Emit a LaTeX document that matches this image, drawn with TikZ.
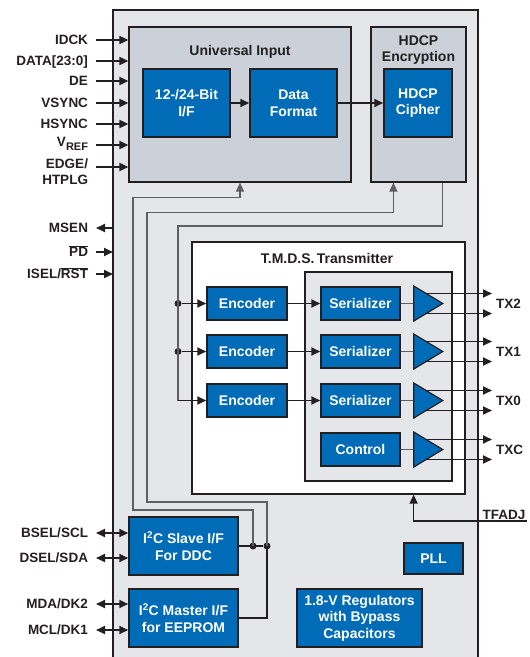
\documentclass[tikz,border=0pt]{standalone}
\usepackage{fontspec}
\setmainfont{Liberation Sans}
\usetikzlibrary{arrows.meta,calc}

\definecolor{chipgray}{RGB}{228,230,234}
\definecolor{blockgray}{RGB}{204,209,217}
\definecolor{tiblue}{RGB}{0,108,183}
\definecolor{ink}{RGB}{35,31,32}
\definecolor{wiregray}{RGB}{95,95,98}

\newcommand{\ovl}[1]{$\overline{\mbox{#1}}$}

\begin{document}
\begin{tikzpicture}[x=1pt,y=-1pt,
    font=\fontsize{13.5}{16.5}\selectfont\bfseries,
    blk/.style={draw=ink,line width=1.5pt,fill=tiblue,text=white,align=center,inner sep=0pt,font=\fontsize{14}{16.5}\selectfont\bfseries},
    grp/.style={draw=ink,line width=1.2pt,fill=blockgray,inner sep=0pt},
    title/.style={text=ink,align=center,font=\fontsize{14}{16.5}\selectfont\bfseries},
    pinlbl/.style={anchor=east,inner sep=0pt,outer sep=8pt,text height=9.7pt,text depth=0pt,text=ink},
    outlbl/.style={anchor=west,inner sep=0pt,text height=9.7pt,text depth=0pt,text=ink},
    sig/.style={draw=ink,line width=1.8pt,-{Triangle[length=9pt,width=8pt]}},
    bisig/.style={draw=ink,line width=1.8pt,{Triangle[length=9pt,width=8pt]}-{Triangle[length=9pt,width=8pt]}},
    wire/.style={draw=wiregray,line width=1.2pt},
    buf/.style={draw=ink,line width=1.2pt,fill=tiblue},
    dot/.style={circle,fill=ink,inner sep=0pt,minimum size=7pt}]

      \useasboundingbox (0,0) rectangle (530,657);

      % the chip, open at the bottom
      \coordinate (chipnw) at (113,10);
      \fill[chipgray] (113,10) rectangle (478,657);
      \draw[ink,line width=1.5pt] (113,657) -- (chipnw) -- (478,10) -- (478,657);

      % Universal Input
      \node[grp,minimum width=222pt,minimum height=155pt] (ui) at (240,104.5) {};
      \node[title] (uititle) at (240,52) {Universal Input};
      \node[blk,minimum width=87pt,minimum height=68pt] (bitif) at (186.5,103) {12-/24-Bit\\I/F};
      \node[blk,minimum width=87pt,minimum height=68pt] (fmt) at (293.5,103) {Data\\Format};

      % HDCP
      \node[grp,minimum width=95pt,minimum height=155pt] (hdcp) at (418.5,104.5) {};
      \node[title] (hdcptitle) at (418.5,50) {HDCP\\Encryption};
      \node[blk,minimum width=68pt,minimum height=68pt] (cipher) at (418,103) {HDCP\\Cipher};

      \draw[sig] (bitif) -- (fmt);
      \draw[sig] (fmt) -- (cipher);

      % input pins
      \node[pinlbl] (idck) at (96,40) {IDCK};
      \node[pinlbl] (data) at (96,61) {DATA[23:0]};
      \node[pinlbl] (de) at (96,81) {DE};
      \node[pinlbl] (vsync) at (96,103) {VSYNC};
      \node[pinlbl] (hsync) at (96,124) {HSYNC};
      \node[pinlbl] (vref) at (96,145) {\raisebox{3pt}{V}\raisebox{-1pt}{\fontsize{11}{11}\selectfont REF}};
      \node[pinlbl,align=right,text height=26.2pt] (edge) at (96,171.5) {EDGE/\\HTPLG};
      \coordinate (edgepin) at ($(edge.east)+(0,-4.5)$);

      \draw[sig] (idck) -- (idck -| ui.west);
      \draw[sig] (data) -- (data -| ui.west);
      \draw[sig] (de) -- (de -| ui.west);
      \draw[sig] (vsync) -- (vsync -| ui.west);
      \draw[sig] (hsync) -- (hsync -| ui.west);
      \draw[sig] (vref) -- (vref -| ui.west);
      \draw[sig] (edgepin) -- (edgepin -| ui.west);

      % control pins
      \node[pinlbl] (msen) at (96,228) {MSEN};
      \node[pinlbl] (pd) at (96,252) {\ovl{PD}};
      \node[pinlbl] (isel) at (96,274) {ISEL/\ovl{RST}};
      \draw[sig] (msen -| chipnw) -- (msen);
      \draw[sig] (pd) -- (pd -| chipnw);
      \draw[sig] (isel) -- (isel -| chipnw);

      % T.M.D.S. transmitter
      \node[draw=ink,line width=1.2pt,fill=white,inner sep=0pt,minimum width=273pt,minimum height=252pt] (tmds) at (328.5,368) {};
      \node[title] (tmdstitle) at (327,258) {T.M.D.S.\,Transmitter};
      \node[draw=ink,line width=1.2pt,fill=chipgray,inner sep=0pt,minimum width=147pt,minimum height=209pt] (sergrp) at (378.5,376.5) {};

      \node[blk,minimum width=80pt,minimum height=33pt] (enc1) at (247,303.5) {Encoder};
      \node[blk,minimum width=80pt,minimum height=33pt] (enc2) at (247,351.5) {Encoder};
      \node[blk,minimum width=80pt,minimum height=33pt] (enc3) at (247,400.5) {Encoder};

      \node[blk,minimum width=79pt,minimum height=33pt] (ser1) at (360.5,303.5) {Serializer};
      \node[blk,minimum width=79pt,minimum height=33pt] (ser2) at (360.5,351.5) {Serializer};
      \node[blk,minimum width=79pt,minimum height=33pt] (ser3) at (360.5,400.5) {Serializer};
      \node[blk,minimum width=79pt,minimum height=33pt] (ctrl) at (360.5,449.5) {Control};

      \draw[sig] (enc1) -- (ser1);
      \draw[sig] (enc2) -- (ser2);
      \draw[sig] (enc3) -- (ser3);

      % output buffers
      \coordinate (buf1) at ($(ser1.east)+(13,0)$);
      \coordinate (buf2) at ($(ser2.east)+(13,0)$);
      \coordinate (buf3) at ($(ser3.east)+(13,0)$);
      \coordinate (buf4) at ($(ctrl.east)+(13,0)$);
      \draw[wire] (ser1) -- (buf1);
      \draw[wire] (ser2) -- (buf2);
      \draw[wire] (ser3) -- (buf3);
      \draw[wire] (ctrl) -- (buf4);
      \draw[buf] ($(buf1)+(0,-17.5)$) -- +(29,17.5) -- +(0,35) -- cycle;
      \draw[buf] ($(buf2)+(0,-17.5)$) -- +(29,17.5) -- +(0,35) -- cycle;
      \draw[buf] ($(buf3)+(0,-17.5)$) -- +(29,17.5) -- +(0,35) -- cycle;
      \draw[buf] ($(buf4)+(0,-17.5)$) -- +(29,17.5) -- +(0,35) -- cycle;

      \node[outlbl] (tx2) at (496,303.5) {TX2};
      \node[outlbl] (tx1) at (496,351.5) {TX1};
      \node[outlbl] (tx0) at (496,400.5) {TX0};
      \node[outlbl] (txc) at (496,449.5) {TXC};

      \draw[sig] ($(buf1)+(12,-10)$) -- ($(tx2.west)+(-4,-10)$);
      \draw[sig] ($(buf1)+(12,10)$) -- ($(tx2.west)+(-4,10)$);
      \draw[sig] ($(buf2)+(12,-10)$) -- ($(tx1.west)+(-4,-10)$);
      \draw[sig] ($(buf2)+(12,10)$) -- ($(tx1.west)+(-4,10)$);
      \draw[sig] ($(buf3)+(12,-10)$) -- ($(tx0.west)+(-4,-10)$);
      \draw[sig] ($(buf3)+(12,10)$) -- ($(tx0.west)+(-4,10)$);
      \draw[sig] ($(buf4)+(12,-10)$) -- ($(txc.west)+(-4,-10)$);
      \draw[sig] ($(buf4)+(12,10)$) -- ($(txc.west)+(-4,10)$);

      % TFADJ
      \node[anchor=south east,inner sep=1.5pt,text=ink] (tfadj) at (527,521) {TFADJ};
      \draw[draw=ink,line width=1.5pt,-{Triangle[length=9pt,width=8pt]}] (tfadj.south east) -| ($(tmds.south east)+(-52,0)$);

      % I2C blocks
      \node[blk,minimum width=109pt,minimum height=58pt] (slave) at (183.5,546) {I\textsuperscript{2}C Slave I/F\\For DDC};
      \node[blk,minimum width=109pt,minimum height=58pt] (master) at (183.5,618) {I\textsuperscript{2}C Master I/F\\for EEPROM};

      \node[pinlbl] (bsel) at (96,533) {BSEL/SCL};
      \node[pinlbl] (dsel) at (96,558) {DSEL/SDA};
      \node[pinlbl] (mda) at (96,604) {MDA/DK2};
      \node[pinlbl] (mcl) at (96,630) {MCL/DK1};
      \draw[bisig] (bsel) -- (bsel -| slave.west);
      \draw[bisig] (dsel) -- (dsel -| slave.west);
      \draw[bisig] (mda) -- (mda -| master.west);
      \draw[bisig] (mcl) -- (mcl -| master.west);

      % PLL and regulators
      \node[blk,minimum width=59pt,minimum height=31pt] (pll) at (433.5,558.5) {PLL};
      \node[blk,minimum width=125pt,minimum height=58pt] (reg) at (359.5,618) {1.8-V Regulators\\with Bypass\\Capacitors};

      % internal buses
      \node[dot] (dota) at (253,546) {};
      \node[dot] (dotb) at (267,546) {};
      \draw[ink,line width=1.8pt] (slave) -- (dotb);
      \draw[ink,line width=1.8pt] (dotb.center) |- (master.east);

      \draw[wire,-{Triangle[length=9pt,width=8pt]}] (dota.center) |- (133,510) |- ($(ui.south)+(0,15)$) -- (ui.south);
      \draw[wire,-{Triangle[length=9pt,width=8pt]}] (dotb.center) |- (147,502) |- ($(hdcp.south west)+(23,30)$) -- ($(hdcp.south west)+(23,0)$);

      \node[dot] (dotc1) at (178,303.5) {};
      \node[dot] (dotc2) at (178,351.5) {};
      \coordinate (c3) at (178,400.5);
      \draw[wire] ($(hdcp.south east)+(-24,0)$) |- (178,226) -- (c3);
      \draw[sig] (dotc1) -- (enc1);
      \draw[sig] (dotc2) -- (enc2);
      \draw[sig] (c3) -- (enc3);

\end{tikzpicture}
\end{document}
